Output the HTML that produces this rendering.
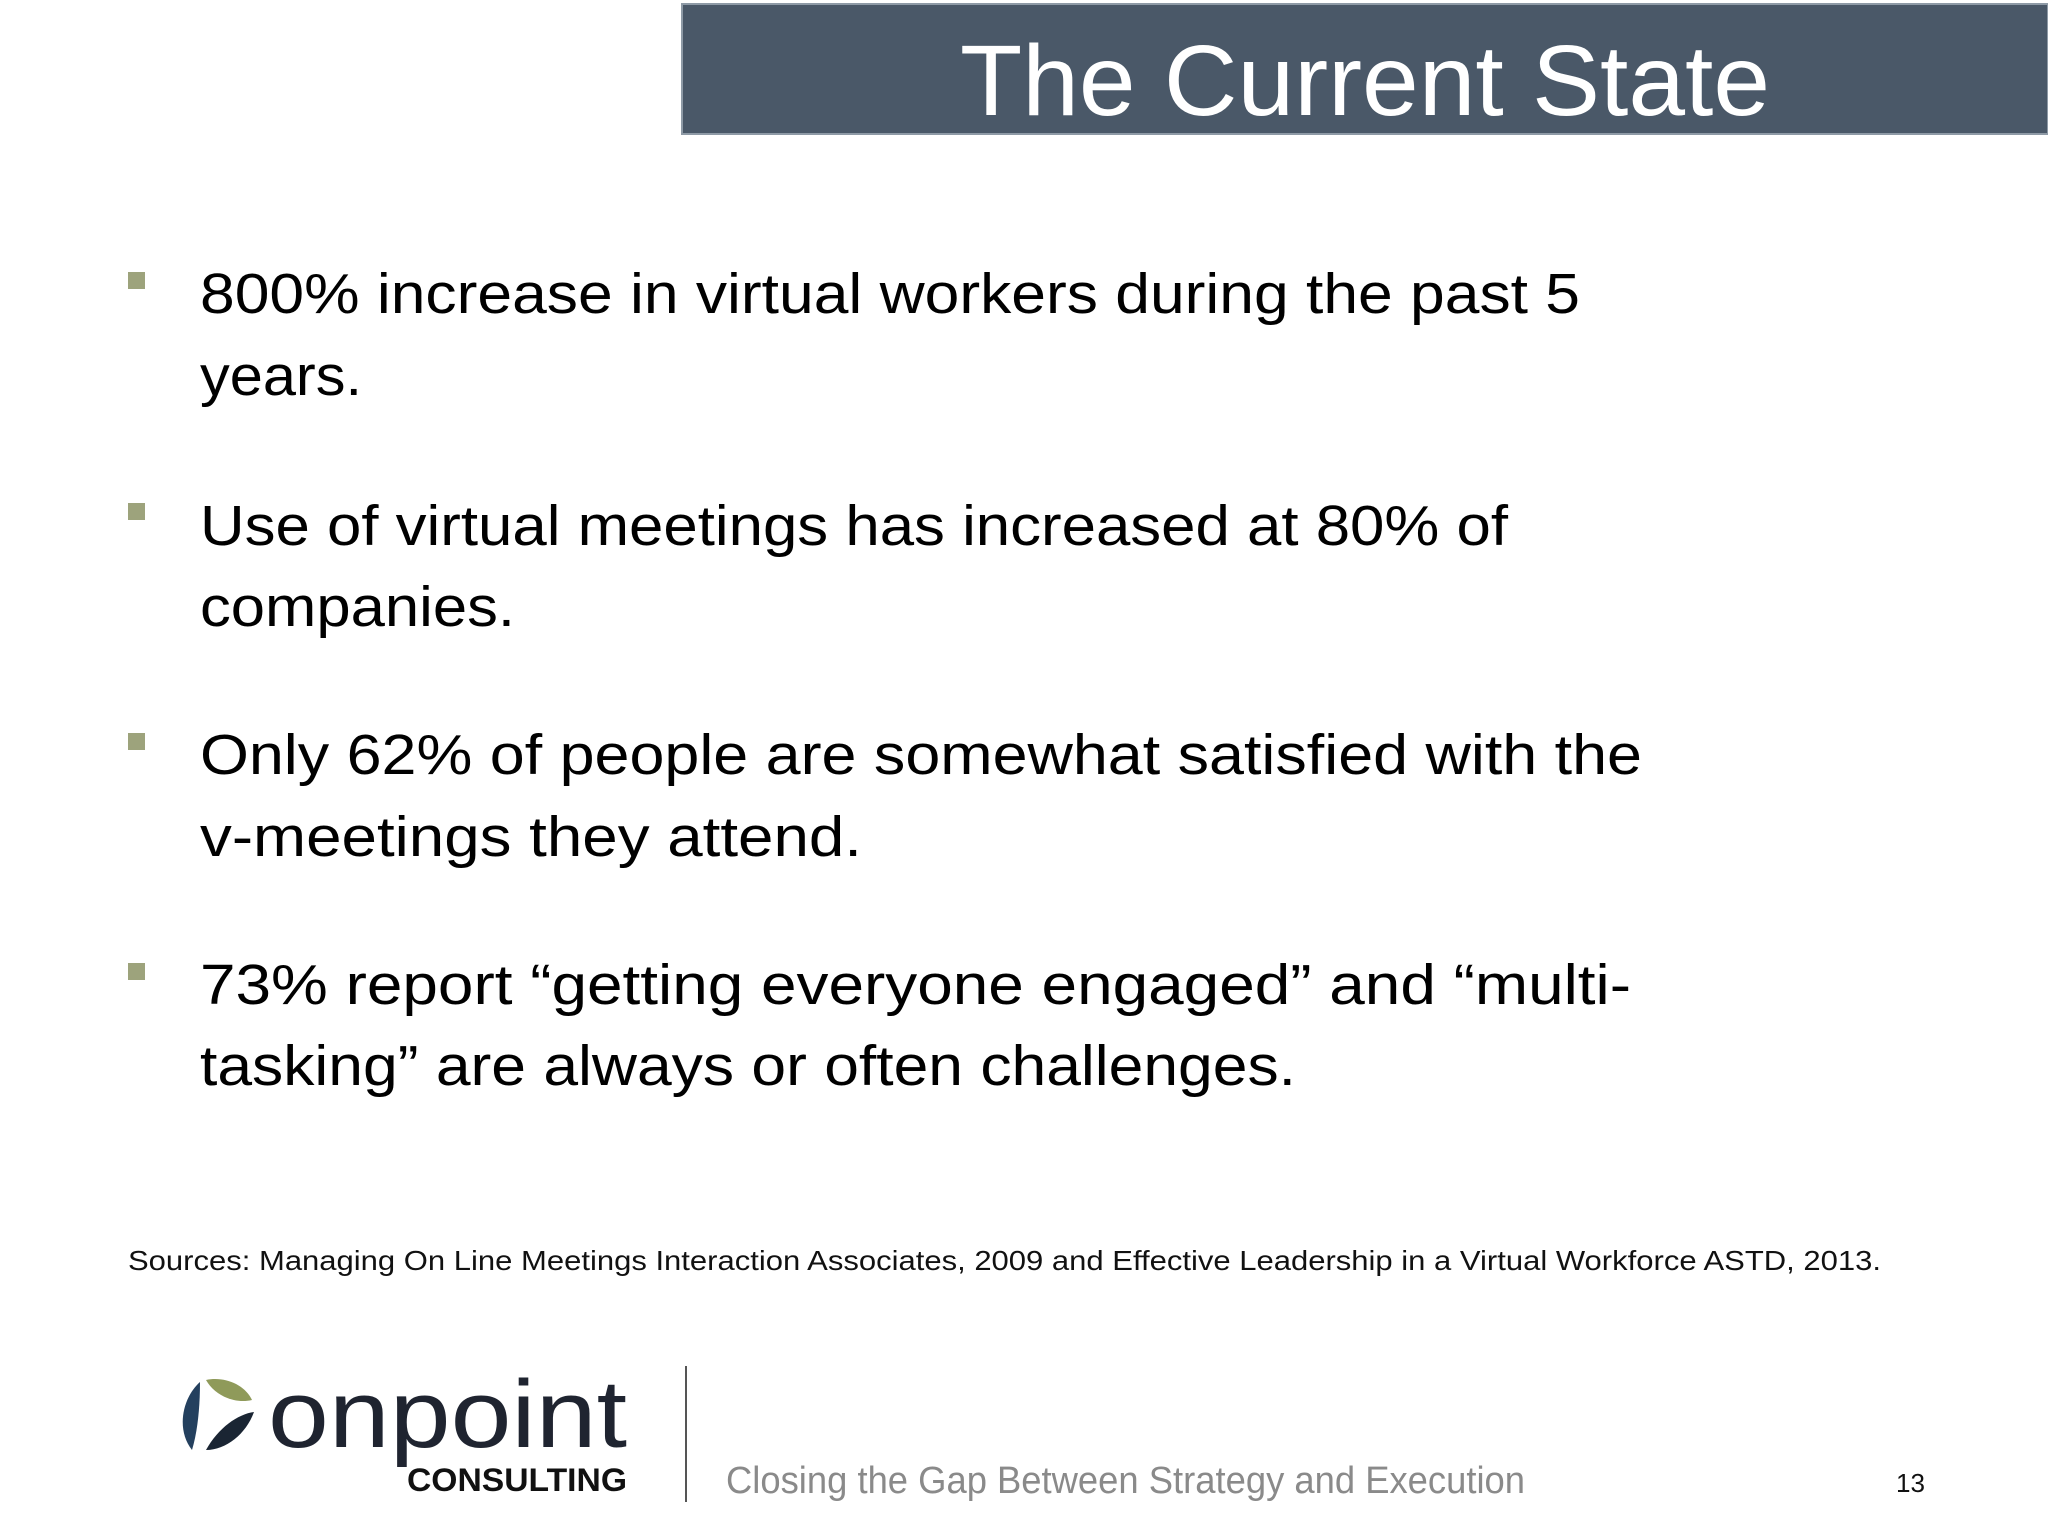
<!DOCTYPE html>
<html><head><meta charset="utf-8"><style>
html,body{margin:0;padding:0;background:#fff;}
svg{display:block;}
text{font-family:"Liberation Sans",sans-serif;}
</style></head><body>
<svg width="2048" height="1536" viewBox="0 0 2048 1536" xmlns="http://www.w3.org/2000/svg">
<rect x="682" y="4" width="1366" height="130" fill="#4a5868" stroke="#8e9aa6" stroke-width="2"/>
<text x="960" y="115" font-size="100" fill="#fff" textLength="810" lengthAdjust="spacingAndGlyphs">The Current State</text>

<g fill="#000" font-size="57">
<rect x="128" y="272" width="17" height="17" fill="#9da37c"/>
<text x="200" y="313" textLength="1380" lengthAdjust="spacingAndGlyphs">800% increase in virtual workers during the past 5</text>
<text x="200" y="395" textLength="162" lengthAdjust="spacingAndGlyphs">years.</text>

<rect x="128" y="503" width="17" height="17" fill="#9da37c"/>
<text x="200" y="545" textLength="1308" lengthAdjust="spacingAndGlyphs">Use of virtual meetings has increased at 80% of</text>
<text x="200" y="626" textLength="315" lengthAdjust="spacingAndGlyphs">companies.</text>

<rect x="128" y="733" width="17" height="17" fill="#9da37c"/>
<text x="200" y="774" textLength="1442" lengthAdjust="spacingAndGlyphs">Only 62% of people are somewhat satisfied with the</text>
<text x="200" y="856" textLength="662" lengthAdjust="spacingAndGlyphs">v-meetings they attend.</text>

<rect x="128" y="963" width="17" height="17" fill="#9da37c"/>
<text x="200" y="1004" textLength="1431" lengthAdjust="spacingAndGlyphs">73% report “getting everyone engaged” and “multi-</text>
<text x="200" y="1085" textLength="1096" lengthAdjust="spacingAndGlyphs">tasking” are always or often challenges.</text>
</g>

<text x="128" y="1270" font-size="28" fill="#111" textLength="1753" lengthAdjust="spacingAndGlyphs">Sources: Managing On Line Meetings Interaction Associates, 2009 and Effective Leadership in a Virtual Workforce ASTD, 2013.</text>

<g>
<path d="M200,1382 C182,1398 176,1430 192,1450 C198,1430 200,1405 200,1382 Z" fill="#24405e"/>
<path d="M206,1380 C225,1376 245,1385 252,1400 C235,1404 215,1396 206,1380 Z" fill="#8f9a5a"/>
<path d="M206,1450 C218,1428 238,1414 254,1412 C246,1434 226,1450 206,1450 Z" fill="#1a2533"/>
<text x="268" y="1447" font-size="96" fill="#1f2430" textLength="359" lengthAdjust="spacingAndGlyphs">onpoint</text>
<text x="407" y="1491" font-size="32" font-weight="bold" fill="#111" textLength="220" lengthAdjust="spacingAndGlyphs">CONSULTING</text>
</g>
<rect x="685" y="1366" width="2" height="136" fill="#555"/>
<text x="726" y="1493" font-size="38" fill="#8a8a8a" textLength="799" lengthAdjust="spacingAndGlyphs">Closing the Gap Between Strategy and Execution</text>
<text x="1896" y="1492" font-size="26" fill="#111" textLength="29" lengthAdjust="spacingAndGlyphs">13</text>
</svg>
</body></html>
